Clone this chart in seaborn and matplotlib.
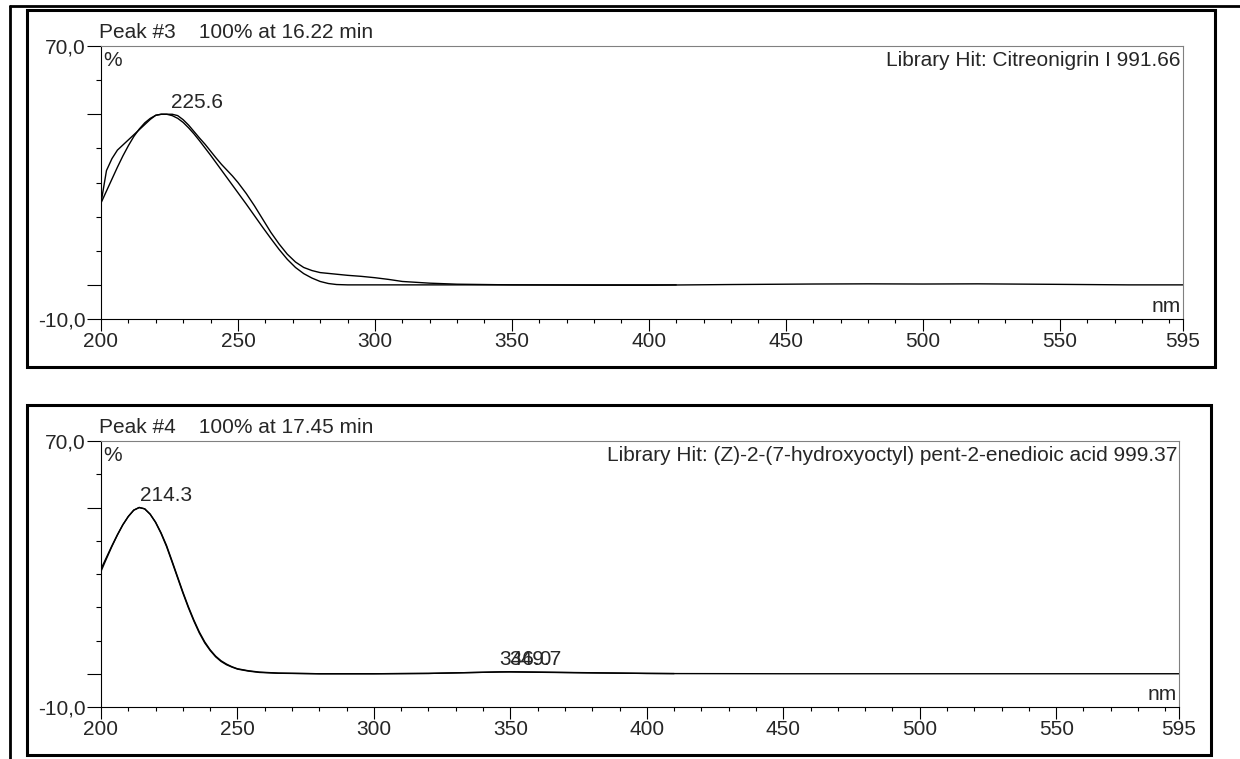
import matplotlib
matplotlib.use("Agg")
import matplotlib.pyplot as plt
import seaborn as sns
from matplotlib.lines import Line2D
from matplotlib.patches import Rectangle

# ---------------- data ----------------
# Peak #3 : sample spectrum (200-595 nm)
p3_sample_nm = [200, 202, 204, 206, 208, 210, 212, 214, 216, 218, 220, 222, 224, 226,
                228, 230, 232, 234, 236, 238, 240, 242, 244, 246, 248, 250, 253, 256,
                259, 262, 265, 268, 271, 274, 277, 280, 285, 290, 295, 300, 305, 310,
                320, 330, 340, 350, 380, 400, 430, 460, 480, 500, 520, 550, 575, 595]
p3_sample_val = [24.0, 33.5, 37.0, 39.5, 41.0, 42.5, 44.0, 45.5, 47.0, 48.5, 49.7, 50.0,
                 50.0, 50.0, 49.6, 48.4, 46.8, 44.9, 43.0, 41.2, 39.2, 37.2, 35.3, 33.6,
                 31.9, 30.0, 26.8, 23.2, 19.3, 15.4, 12.0, 9.0, 6.7, 5.1, 4.2, 3.6, 3.2,
                 2.8, 2.5, 2.1, 1.6, 1.0, 0.5, 0.2, 0.1, 0.0, -0.1, -0.1, 0.1, 0.25, 0.3,
                 0.25, 0.3, 0.15, 0.0, 0.0]
# Peak #3 : library spectrum (200-410 nm)
p3_lib_nm = [200, 202, 204, 206, 208, 210, 212, 214, 216, 218, 220, 222, 224, 226, 228,
             230, 232, 234, 236, 238, 240, 242, 244, 246, 248, 250, 253, 256, 259, 262,
             265, 268, 271, 274, 277, 280, 283, 286, 290, 300, 350, 410]
p3_lib_val = [24.0, 27.5, 31.0, 34.5, 37.8, 40.8, 43.5, 45.7, 47.5, 48.8, 49.7, 50.0,
              50.0, 49.6, 48.8, 47.6, 46.0, 44.2, 42.2, 40.1, 38.0, 35.8, 33.6, 31.4,
              29.2, 27.0, 23.7, 20.3, 16.9, 13.6, 10.4, 7.5, 5.1, 3.3, 2.0, 1.0, 0.4,
              0.1, 0.0, 0.0, 0.0, 0.0]

# Peak #4 : sample spectrum (200-595 nm)
p4_sample_nm = [200, 202, 204, 206, 208, 210, 212, 214, 216, 218, 220, 222, 224, 226,
                228, 230, 232, 234, 236, 238, 240, 242, 244, 246, 248, 250, 254, 258,
                265, 280, 300, 320, 335, 346, 350, 360, 380, 400, 410, 450, 500, 550, 595]
p4_sample_val = [31.5, 35.0, 38.5, 41.8, 44.8, 47.3, 49.2, 50.0, 49.6, 48.0, 45.6, 42.4,
                 38.6, 34.0, 29.3, 24.6, 20.2, 16.2, 12.6, 9.6, 7.2, 5.3, 3.9, 2.9, 2.1,
                 1.5, 0.9, 0.5, 0.2, 0.0, 0.0, 0.1, 0.35, 0.55, 0.55, 0.45, 0.25, 0.1,
                 0.05, 0.0, 0.0, 0.0, 0.0]
# Peak #4 : library spectrum (200-410 nm)
p4_lib_nm = [200, 202, 204, 206, 208, 210, 212, 214, 216, 218, 220, 222, 224, 226, 228,
             230, 232, 234, 236, 238, 240, 242, 244, 246, 248, 250, 254, 258, 265, 280,
             300, 320, 335, 349.7, 360, 380, 400, 410]
p4_lib_val = [30.8, 34.6, 38.3, 41.7, 44.8, 47.3, 49.2, 50.0, 49.6, 48.0, 45.5, 42.2,
              38.3, 33.7, 29.0, 24.3, 19.9, 15.9, 12.3, 9.3, 7.0, 5.1, 3.7, 2.7, 2.0,
              1.4, 0.8, 0.4, 0.15, 0.0, 0.0, 0.1, 0.35, 0.6, 0.5, 0.3, 0.1, 0.05]

# peak annotations
p3_peak_nm = [225.6]
p3_peak_val = [50.0]
p4_peak_nm = [214.3, 346.0, 349.7]
p4_peak_val = [50.0, 0.55, 0.6]

headers = ["Peak #3    100% at 16.22 min", "Peak #4    100% at 17.45 min"]
hits = ["Library Hit: Citreonigrin I 991.66",
        "Library Hit: (Z)-2-(7-hydroxyoctyl) pent-2-enedioic acid 999.37"]

x_major = [200, 250, 300, 350, 400, 450, 500, 550, 595]
x_minor = [v for v in range(210, 595, 10) if v not in x_major]
y_major = [-10, 0, 50, 70]
y_major_labels = ["-10,0", "", "", "70,0"]
y_minor = [10, 20, 30, 40, 60]

# ---------------- style ----------------
sns.set_style("ticks")
plt.rcParams["font.family"] = ["Liberation Sans", "DejaVu Sans"]

W, H = 1240, 759
fig = plt.figure(figsize=(W / 100, H / 100), dpi=100)


def fx(px):
    return px / W


def fy(py):
    return 1 - py / H


def frame(x0, y0, x1, y1, lw=2.2):
    fig.add_artist(Rectangle((fx(x0), fy(y1)), fx(x1) - fx(x0), fy(y0) - fy(y1),
                             transform=fig.transFigure, fill=False, lw=lw,
                             ec="black"))


# outer page lines
fig.add_artist(Line2D([fx(10), fx(1240)], [fy(6), fy(6)], transform=fig.transFigure,
                      color="black", lw=2.0))
fig.add_artist(Line2D([fx(10), fx(10)], [fy(6), fy(759)], transform=fig.transFigure,
                      color="black", lw=2.0))
# panel frames
frame(27, 10, 1215, 367)
frame(27, 405, 1211, 755)

FS = 15
TFS = 15


def panel(box, series, peaks_nm, peaks_val, header, hit):
    x0, y0, x1, y1 = box
    ax = fig.add_axes([fx(x0), fy(y1), fx(x1) - fx(x0), fy(y0) - fy(y1)])
    for nm, val in series:
        sns.lineplot(x=nm, y=val, ax=ax, color="black", lw=1.0, estimator=None,
                     sort=False, legend=False)
    ax.set_xlim(200, 595)
    ax.set_ylim(-10, 70)
    ax.set_xlabel("")
    ax.set_ylabel("")
    ax.set_xticks(x_major)
    ax.set_xticklabels([str(v) for v in x_major])
    ax.set_xticks(x_minor, minor=True)
    ax.set_yticks(y_major)
    ax.set_yticklabels(y_major_labels)
    ax.set_yticks(y_minor, minor=True)
    ax.tick_params(axis="x", which="major", length=8.6, width=0.8, pad=1,
                   labelsize=TFS, color="black", direction="out")
    ax.tick_params(axis="x", which="minor", length=3.0, width=0.8, color="black",
                   direction="out")
    ax.tick_params(axis="y", which="major", length=10.0, width=0.8, pad=1,
                   labelsize=TFS, color="black", direction="out")
    ax.tick_params(axis="y", which="minor", length=3.6, width=0.8, color="black",
                   direction="out")
    for s in ["left", "bottom"]:
        ax.spines[s].set_color("black")
        ax.spines[s].set_linewidth(0.8)
    for s in ["top", "right"]:
        ax.spines[s].set_visible(True)
        ax.spines[s].set_color("#808080")
        ax.spines[s].set_linewidth(0.8)
    ax.grid(False)
    for pn, pv in zip(peaks_nm, peaks_val):
        ax.annotate(f"{pn:.1f}", xy=(pn, pv), xytext=(0, 4.8),
                    textcoords="offset points", ha="left", va="baseline",
                    fontsize=FS)
    ax.annotate(header, xy=(0, 1), xycoords="axes fraction", xytext=(-1.5, 5.5),
                textcoords="offset points", ha="left", va="baseline", fontsize=FS)
    ax.annotate(hit, xy=(1, 1), xycoords="axes fraction", xytext=(-1.5, -14.5),
                textcoords="offset points", ha="right", va="baseline", fontsize=FS)
    ax.annotate("%", xy=(0, 1), xycoords="axes fraction", xytext=(1.5, -14.5),
                textcoords="offset points", ha="left", va="baseline", fontsize=FS)
    ax.annotate("nm", xy=(1, 0), xycoords="axes fraction", xytext=(-1.5, 5),
                textcoords="offset points", ha="right", va="baseline", fontsize=FS)
    return ax


panel((101, 46, 1183, 319),
      [(p3_sample_nm, p3_sample_val), (p3_lib_nm, p3_lib_val)],
      p3_peak_nm, p3_peak_val, headers[0], hits[0])
panel((101, 441, 1179, 707),
      [(p4_sample_nm, p4_sample_val), (p4_lib_nm, p4_lib_val)],
      p4_peak_nm, p4_peak_val, headers[1], hits[1])

fig.savefig("out.png", dpi=100)
